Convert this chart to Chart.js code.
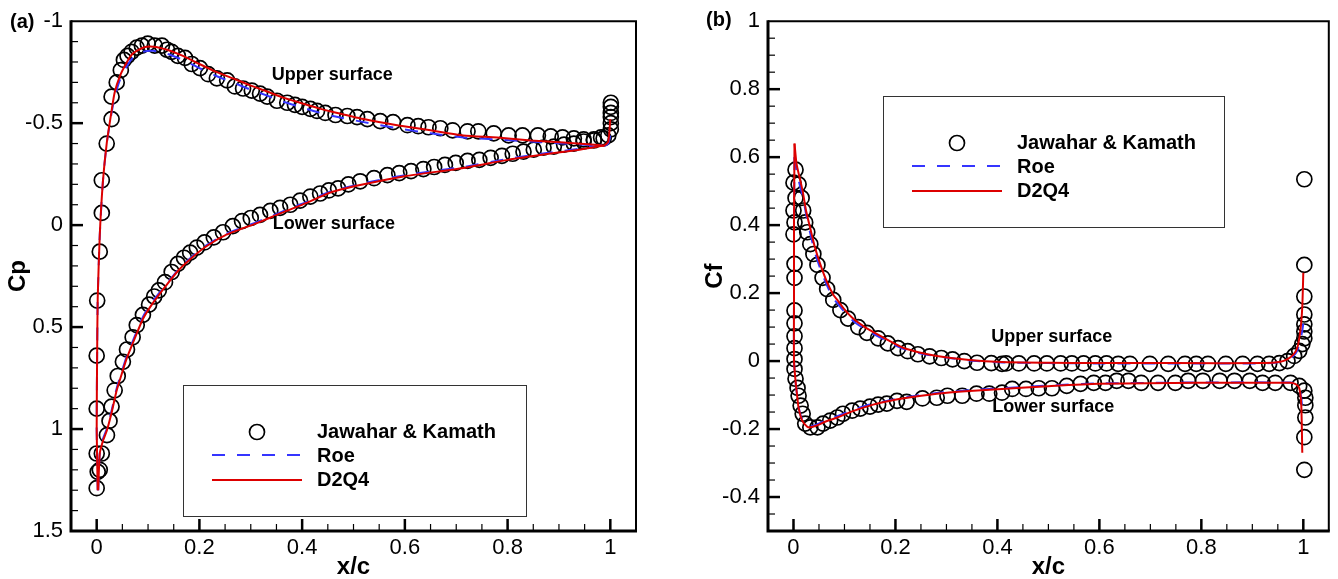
<!DOCTYPE html>
<html>
<head>
<meta charset="utf-8">
<title>Cp and Cf distributions</title>
<script src="https://cdn.jsdelivr.net/npm/chart.js@4.4.1/dist/chart.umd.min.js"></script>
<style>
  html, body { margin: 0; padding: 0; background: #fff; }
  #wrap { position: relative; width: 1338px; height: 579px; }
  .panel { position: absolute; top: 0; width: 669px; height: 579px; }
</style>
</head>
<body>
<div id="wrap">
  <div class="panel" style="left:0"><canvas id="cpChart" width="669" height="579"></canvas></div>
  <div class="panel" style="left:669px"><canvas id="cfChart" width="669" height="579"></canvas></div>
</div>
<script>
// axis ticks
const xTicks = [0, 0.2, 0.4, 0.6, 0.8, 1];
const xTickLabels = ['0', '0.2', '0.4', '0.6', '0.8', '1'];
const cpTicks = [-1, -0.5, 0, 0.5, 1, 1.5];
const cpTickLabels = ['-1', '-0.5', '0', '0.5', '1', '1.5'];
const cfTicks = [-0.4, -0.2, 0, 0.2, 0.4, 0.6, 0.8, 1];
const cfTickLabels = ['-0.4', '-0.2', '0', '0.2', '0.4', '0.6', '0.8', '1'];

// (a) Cp, Jawahar & Kamath
const cpRefUpperX = [0.000, 0.000, 0.000, 0.001, 0.006, 0.010, 0.010, 0.0195, 0.029, 0.029,
  0.039, 0.047, 0.053, 0.060, 0.068, 0.078, 0.088, 0.0995, 0.113, 0.127,
  0.137, 0.146, 0.158, 0.172, 0.185, 0.201, 0.217, 0.234, 0.254, 0.269,
  0.285, 0.302, 0.318, 0.332, 0.351, 0.371, 0.386, 0.400, 0.416, 0.429,
  0.445, 0.465, 0.488, 0.507, 0.527, 0.552, 0.577, 0.605, 0.626, 0.646,
  0.669, 0.693, 0.722, 0.743, 0.773, 0.802, 0.829, 0.859, 0.884, 0.907,
  0.929, 0.948, 0.968, 0.982, 0.996, 1.001, 1.001, 1.001, 1.001, 1.001, 1.001];
const cpRefUpper = [1.12, 0.90, 0.64, 0.37, 0.13, -0.06, -0.22, -0.40, -0.52, -0.63,
  -0.70, -0.76, -0.81, -0.83, -0.85, -0.87, -0.88, -0.89, -0.88, -0.88,
  -0.86, -0.85, -0.83, -0.82, -0.79, -0.77, -0.74, -0.72, -0.71, -0.68,
  -0.67, -0.66, -0.645, -0.63, -0.61, -0.60, -0.59, -0.58, -0.57, -0.56,
  -0.55, -0.54, -0.535, -0.53, -0.52, -0.51, -0.505, -0.49, -0.485, -0.48,
  -0.475, -0.465, -0.46, -0.46, -0.45, -0.44, -0.44, -0.44, -0.435, -0.43,
  -0.425, -0.42, -0.42, -0.43, -0.44, -0.47, -0.50, -0.53, -0.55, -0.58, -0.60];
const cpRefLowerX = [0.000, 0.002, 0.006, 0.010, 0.020, 0.025, 0.029, 0.035, 0.041, 0.051,
  0.059, 0.070, 0.078, 0.090, 0.102, 0.112, 0.121, 0.133, 0.146, 0.158,
  0.170, 0.182, 0.195, 0.210, 0.228, 0.246, 0.265, 0.283, 0.300, 0.318,
  0.338, 0.357, 0.377, 0.396, 0.416, 0.435, 0.452, 0.470, 0.490, 0.513,
  0.540, 0.566, 0.589, 0.612, 0.636, 0.657, 0.678, 0.699, 0.722, 0.745,
  0.767, 0.789, 0.810, 0.831, 0.851, 0.870, 0.890, 0.910, 0.929, 0.948,
  0.968, 0.987];
const cpRefLower = [1.29, 1.21, 1.20, 1.12, 1.03, 0.96, 0.89, 0.81, 0.74, 0.67,
  0.61, 0.55, 0.49, 0.44, 0.39, 0.35, 0.32, 0.28, 0.23, 0.19,
  0.16, 0.135, 0.11, 0.085, 0.06, 0.035, 0.005, -0.02, -0.035, -0.05,
  -0.07, -0.085, -0.10, -0.12, -0.14, -0.155, -0.17, -0.18, -0.20, -0.215,
  -0.23, -0.245, -0.255, -0.265, -0.275, -0.285, -0.295, -0.305, -0.315, -0.32,
  -0.33, -0.34, -0.35, -0.36, -0.37, -0.38, -0.385, -0.395, -0.40, -0.41,
  -0.415, -0.425];

// (a) Cp, computed (D2Q4 and Roe share the stations)
const cpCalcUpperX = [0.002, 0.0, 0.001, 0.002, 0.006, 0.012, 0.0195, 0.029, 0.035, 0.045,
  0.059, 0.07, 0.09, 0.11, 0.137, 0.168, 0.2, 0.234, 0.265, 0.299,
  0.332, 0.363, 0.396, 0.429, 0.46, 0.52, 0.585, 0.65, 0.714, 0.78,
  0.845, 0.909, 0.976, 0.988, 0.996, 1.0];
const cpD2q4Upper = [1.30, 1.0, 0.6, 0.36, 0.05, -0.21, -0.40, -0.56, -0.65, -0.73,
  -0.80, -0.84, -0.87, -0.875, -0.86, -0.83, -0.79, -0.75, -0.72, -0.685,
  -0.655, -0.625, -0.60, -0.575, -0.555, -0.52, -0.49, -0.465, -0.44, -0.43,
  -0.415, -0.405, -0.393, -0.39, -0.41, -0.52];
const cpRoeUpper = [1.30, 1.0, 0.6, 0.36, 0.05, -0.21, -0.40, -0.55, -0.63, -0.71,
  -0.78, -0.82, -0.85, -0.855, -0.84, -0.81, -0.77, -0.73, -0.70, -0.665,
  -0.635, -0.605, -0.58, -0.555, -0.535, -0.505, -0.475, -0.45, -0.43, -0.42,
  -0.41, -0.40, -0.39, -0.388, -0.40, -0.44];
const cpCalcLowerX = [0.003, 0.006, 0.012, 0.0195, 0.029, 0.039, 0.05, 0.059, 0.075, 0.09,
  0.11, 0.137, 0.16, 0.181, 0.21, 0.25, 0.312, 0.36, 0.41, 0.455,
  0.52, 0.6, 0.714, 0.8, 0.88, 0.94, 0.988];
const cpD2q4Lower = [1.30, 1.12, 1.06, 1.01, 0.92, 0.81, 0.72, 0.65, 0.55, 0.46,
  0.38, 0.29, 0.22, 0.17, 0.11, 0.05, -0.01, -0.06, -0.11, -0.16,
  -0.20, -0.24, -0.28, -0.32, -0.35, -0.37, -0.39];
const cpRoeLower = [1.30, 1.12, 1.05, 1.0, 0.91, 0.80, 0.71, 0.64, 0.54, 0.45,
  0.37, 0.285, 0.215, 0.165, 0.105, 0.045, -0.015, -0.065, -0.115, -0.165,
  -0.205, -0.245, -0.285, -0.325, -0.355, -0.375, -0.395];

// (b) Cf, Jawahar & Kamath
const cfRefUpperX = [0.010, 0.016, 0.019, 0.023, 0.027, 0.033, 0.039, 0.047, 0.057, 0.066,
  0.078, 0.092, 0.107, 0.127, 0.144, 0.166, 0.185, 0.205, 0.224, 0.244,
  0.267, 0.290, 0.312, 0.335, 0.360, 0.388, 0.409, 0.417, 0.442, 0.472,
  0.497, 0.524, 0.546, 0.569, 0.592, 0.614, 0.637, 0.660, 0.699, 0.735,
  0.768, 0.790, 0.813, 0.848, 0.881, 0.910, 0.933, 0.953, 0.969, 0.982,
  0.992, 0.998, 1.002, 1.002, 1.002, 1.002, 1.002, 1.002, 1.002];
const cfRefUpper = [0.52, 0.48, 0.443, 0.408, 0.379, 0.344, 0.315, 0.283, 0.245, 0.212,
  0.18, 0.15, 0.125, 0.10, 0.083, 0.067, 0.052, 0.038, 0.029, 0.02,
  0.014, 0.009, 0.005, 0.0, -0.005, -0.006, -0.008, -0.007, -0.007, -0.007,
  -0.007, -0.007, -0.007, -0.007, -0.007, -0.007, -0.008, -0.008, -0.008, -0.008,
  -0.008, -0.008, -0.008, -0.008, -0.008, -0.008, -0.008, -0.006, 0.0, 0.015,
  0.03, 0.05, 0.067, 0.087, 0.108, 0.137, 0.19, 0.283, 0.535];
const cfRefLowerX = [0.004, 0.000, 0.004, 0.000, 0.002, 0.000, 0.002, 0.002, 0.002, 0.002,
  0.002, 0.002, 0.002, 0.002, 0.004, 0.008, 0.010, 0.014, 0.018, 0.023,
  0.033, 0.047, 0.058, 0.072, 0.086, 0.097, 0.115, 0.131, 0.150, 0.166,
  0.183, 0.203, 0.222, 0.253, 0.281, 0.302, 0.331, 0.359, 0.384, 0.409,
  0.429, 0.456, 0.481, 0.507, 0.536, 0.563, 0.589, 0.612, 0.634, 0.657,
  0.682, 0.715, 0.749, 0.774, 0.803, 0.836, 0.865, 0.895, 0.920, 0.945,
  0.975, 0.992, 1.002, 1.004, 1.004, 1.004, 1.002, 1.002];
const cfRefLower = [0.563, 0.525, 0.48, 0.443, 0.408, 0.373, 0.286, 0.245, 0.149, 0.111,
  0.073, 0.038, 0.006, -0.023, -0.052, -0.079, -0.102, -0.131, -0.155, -0.184,
  -0.195, -0.195, -0.184, -0.175, -0.166, -0.155, -0.146, -0.14, -0.134, -0.128,
  -0.125, -0.117, -0.12, -0.11, -0.108, -0.102, -0.102, -0.096, -0.096, -0.093,
  -0.082, -0.082, -0.08, -0.08, -0.073, -0.067, -0.064, -0.064, -0.058, -0.058,
  -0.064, -0.064, -0.064, -0.058, -0.058, -0.058, -0.058, -0.058, -0.064, -0.064,
  -0.064, -0.073, -0.087, -0.108, -0.13, -0.166, -0.224, -0.32];

// (b) Cf, computed
const cfCalcUpperX = [0.002, 0.006, 0.012, 0.018, 0.025, 0.033, 0.042, 0.053, 0.065, 0.078,
  0.086, 0.10, 0.117, 0.14, 0.164, 0.19, 0.214, 0.245, 0.281, 0.345,
  0.409, 0.5, 0.6, 0.75, 0.924, 0.955, 0.969, 0.98, 0.988, 0.994,
  0.998, 1.0];
const cfD2q4Upper = [0.64, 0.58, 0.54, 0.50, 0.44, 0.39, 0.335, 0.283, 0.235, 0.195,
  0.18, 0.152, 0.125, 0.10, 0.079, 0.058, 0.04, 0.026, 0.015, 0.003,
  -0.003, -0.005, -0.006, -0.006, -0.006, -0.002, 0.006, 0.018, 0.038, 0.087,
  0.16, 0.26];
const cfRoeUpper = [0.60, 0.56, 0.52, 0.485, 0.43, 0.375, 0.32, 0.27, 0.225, 0.185,
  0.17, 0.145, 0.118, 0.094, 0.074, 0.054, 0.037, 0.024, 0.014, 0.002,
  -0.004, -0.006, -0.007, -0.007, -0.007, -0.003, 0.004, 0.014, 0.03, 0.06,
  0.09, 0.11];
const cfCalcLowerX = [0.002, 0.001, 0.001, 0.001, 0.004, 0.007, 0.01, 0.017, 0.027, 0.033,
  0.045, 0.06, 0.086, 0.115, 0.15, 0.18, 0.214, 0.281, 0.345, 0.409,
  0.5, 0.598, 0.793, 0.975, 0.985, 0.992, 0.996, 0.998];
const cfD2q4Lower = [0.64, 0.4, 0.2, 0.0, -0.058, -0.10, -0.137, -0.175, -0.193, -0.195,
  -0.19, -0.18, -0.166, -0.148, -0.131, -0.12, -0.11, -0.096, -0.088, -0.082,
  -0.074, -0.067, -0.064, -0.064, -0.068, -0.079, -0.13, -0.27];
const cfRoeLower = [0.60, 0.4, 0.2, 0.0, -0.06, -0.10, -0.135, -0.172, -0.19, -0.192,
  -0.187, -0.177, -0.162, -0.145, -0.128, -0.118, -0.108, -0.094, -0.086, -0.08,
  -0.072, -0.066, -0.063, -0.063, -0.066, -0.076, -0.11, -0.14];

const FONT = '"Liberation Sans", Arial, Helvetica, sans-serif';
const RED = '#dd0000';
const BLUE = '#3535ff';
const ROE_DASH = [13, 12];

function pts(xs, ys) {
  return xs.map((v, i) => ({ x: v, y: ys[i] }));
}

function lineSet(label, data, color, dash) {
  return {
    label: label, data: data, showLine: true, pointRadius: 0,
    borderColor: color, borderWidth: 2, borderDash: dash, fill: false, tension: 0.2
  };
}

function circleSet(data) {
  return {
    label: 'Jawahar & Kamath', data: data, showLine: false,
    pointRadius: 7.5, pointBorderWidth: 1.7, pointBorderColor: '#000',
    pointBackgroundColor: 'rgba(0,0,0,0)'
  };
}

// frame, inward ticks, surface notes, panel tag and boxed legend
const framePlugin = {
  id: 'frame',
  afterDatasetsDraw(chart, args, opts) {
    const ctx = chart.ctx;
    const a = chart.chartArea;
    const xs = chart.scales.x, ys = chart.scales.y;
    ctx.save();
    ctx.strokeStyle = '#000';

    function xTick(v, len, w) {
      const px = xs.getPixelForValue(v);
      if (px < a.left + 3 || px > a.right - 3) return;
      ctx.lineWidth = w;
      ctx.beginPath(); ctx.moveTo(px, a.bottom); ctx.lineTo(px, a.bottom - len); ctx.stroke();
    }
    function yTick(v, len, w) {
      const py = ys.getPixelForValue(v);
      if (py < a.top + 3 || py > a.bottom - 3) return;
      ctx.lineWidth = w;
      ctx.beginPath(); ctx.moveTo(a.left, py); ctx.lineTo(a.left + len, py); ctx.stroke();
    }
    for (let k = Math.ceil(xs.min / opts.minorX); k * opts.minorX <= xs.max; k++) xTick(k * opts.minorX, 7, 1.2);
    for (let k = Math.ceil(ys.min / opts.minorY); k * opts.minorY <= ys.max + 1e-9; k++) yTick(k * opts.minorY, 7, 1.2);
    xs.ticks.forEach(t => xTick(t.value, 12, 2.5));
    ys.ticks.forEach(t => yTick(t.value, 12, 2.5));

    // plot frame: heavy axes, lighter top and right
    ctx.lineWidth = 2;
    ctx.beginPath(); ctx.moveTo(a.left, a.top); ctx.lineTo(a.right, a.top); ctx.lineTo(a.right, a.bottom); ctx.stroke();
    ctx.lineWidth = 3;
    ctx.beginPath(); ctx.moveTo(a.left, a.top - 1); ctx.lineTo(a.left, a.bottom); ctx.lineTo(a.right + 1, a.bottom); ctx.stroke();

    // surface notes
    ctx.fillStyle = '#000';
    ctx.textBaseline = 'middle';
    ctx.textAlign = 'left';
    ctx.font = 'bold 18px ' + FONT;
    opts.notes.forEach(n => ctx.fillText(n.text, xs.getPixelForValue(n.x), ys.getPixelForValue(n.y)));

    // panel tag
    ctx.font = 'bold 20px ' + FONT;
    ctx.fillText(opts.tag.text, opts.tag.x, opts.tag.y);

    // legend box
    const lg = opts.legend;
    const sets = chart.data.datasets;
    const find = name => sets.find(d => d.label === name);
    ctx.fillStyle = '#fff';
    ctx.fillRect(lg.left, lg.top, lg.width, lg.height);
    ctx.strokeStyle = '#333';
    ctx.lineWidth = 1;
    ctx.strokeRect(lg.left + 0.5, lg.top + 0.5, lg.width, lg.height);

    const ref = find('Jawahar & Kamath');
    ctx.strokeStyle = ref.pointBorderColor;
    ctx.lineWidth = ref.pointBorderWidth;
    ctx.beginPath(); ctx.arc(lg.left + 74, lg.top + 47, ref.pointRadius, 0, Math.PI * 2); ctx.stroke();

    ['Roe', 'D2Q4'].forEach((name, i) => {
      const d = find(name);
      const y = lg.top + 70 + i * 25;
      ctx.strokeStyle = d.borderColor;
      ctx.lineWidth = d.borderWidth;
      ctx.setLineDash(d.borderDash || []);
      ctx.beginPath(); ctx.moveTo(lg.left + 29, y); ctx.lineTo(lg.left + 119, y); ctx.stroke();
    });
    ctx.setLineDash([]);

    ctx.fillStyle = '#000';
    ctx.font = 'bold 20px ' + FONT;
    ['Jawahar & Kamath', 'Roe', 'D2Q4'].forEach((t, i) => ctx.fillText(t, lg.left + 134, lg.top + 47 + i * 24));
    ctx.restore();
  }
};

function makeChart(id, cfg) {
  const tickFont = { family: FONT, size: 22 };
  const titleFont = { family: FONT, size: 24, weight: 'bold', lineHeight: 1 };
  return new Chart(document.getElementById(id), {
    type: 'scatter',
    data: { datasets: cfg.datasets },
    plugins: [framePlugin],
    options: {
      responsive: false,
      animation: false,
      events: [],
      layout: { padding: { top: 17, right: cfg.padRight, left: 0, bottom: 0 } },
      plugins: {
        legend: { display: false },
        tooltip: { enabled: false },
        frame: { minorX: 0.05, minorY: cfg.minorY, notes: cfg.notes, tag: cfg.tag, legend: cfg.legend }
      },
      scales: {
        x: {
          type: 'linear', min: -0.05, max: 1.05,
          grid: { display: false, drawTicks: false },
          border: { display: false },
          afterBuildTicks: s => { s.ticks = xTicks.map(v => ({ value: v })); },
          afterFit: s => { s.height = 48; },
          ticks: { padding: 4, color: '#000', font: tickFont, autoSkip: false, maxRotation: 0,
            callback: (v, i) => xTickLabels[i] },
          title: { display: true, text: 'x/c', color: '#000', font: titleFont, padding: 0 }
        },
        y: {
          type: 'linear', min: cfg.yMin, max: cfg.yMax, reverse: cfg.reverse,
          grid: { display: false, drawTicks: false },
          border: { display: false },
          afterBuildTicks: s => { s.ticks = cfg.yTicks.map(v => ({ value: v })); },
          afterFit: s => { s.width = cfg.yWidth; },
          ticks: { padding: 8, color: '#000', font: tickFont, autoSkip: false,
            callback: (v, i) => cfg.yLabels[i] },
          title: { display: true, text: cfg.yTitle, color: '#000', font: titleFont,
            padding: { top: cfg.titlePad, bottom: 0 } }
        }
      }
    }
  });
}

makeChart('cpChart', {
  datasets: [
    lineSet('D2Q4', pts(cpCalcUpperX, cpD2q4Upper), RED),
    lineSet('D2Q4', pts(cpCalcLowerX, cpD2q4Lower), RED),
    lineSet('Roe', pts(cpCalcUpperX, cpRoeUpper), BLUE, ROE_DASH),
    lineSet('Roe', pts(cpCalcLowerX, cpRoeLower), BLUE, ROE_DASH),
    circleSet(pts(cpRefUpperX, cpRefUpper)),
    circleSet(pts(cpRefLowerX, cpRefLower))
  ],
  yMin: -1, yMax: 1.5, reverse: true, minorY: 0.1,
  yTicks: cpTicks, yLabels: cpTickLabels, yTitle: 'Cp',
  yWidth: 71, titlePad: 6, padRight: 33,
  notes: [
    { text: 'Upper surface', x: 0.341, y: -0.737 },
    { text: 'Lower surface', x: 0.343, y: -0.003 }
  ],
  tag: { text: '(a)', x: 10, y: 22 },
  legend: { left: 183, top: 385, width: 343, height: 131 }
});

makeChart('cfChart', {
  datasets: [
    lineSet('D2Q4', pts(cfCalcUpperX, cfD2q4Upper), RED),
    lineSet('D2Q4', pts(cfCalcLowerX, cfD2q4Lower), RED),
    lineSet('Roe', pts(cfCalcUpperX, cfRoeUpper), BLUE, ROE_DASH),
    lineSet('Roe', pts(cfCalcLowerX, cfRoeLower), BLUE, ROE_DASH),
    circleSet(pts(cfRefUpperX, cfRefUpper)),
    circleSet(pts(cfRefLowerX, cfRefLower))
  ],
  yMin: -0.5, yMax: 1, reverse: false, minorY: 0.05,
  yTicks: cfTicks, yLabels: cfTickLabels, yTitle: 'Cf',
  yWidth: 99, titlePad: 34, padRight: 6,
  notes: [
    { text: 'Upper surface', x: 0.388, y: 0.07 },
    { text: 'Lower surface', x: 0.39, y: -0.135 }
  ],
  tag: { text: '(b)', x: 37, y: 20 },
  legend: { left: 214, top: 96, width: 341, height: 131 }
});
</script>
</body>
</html>
